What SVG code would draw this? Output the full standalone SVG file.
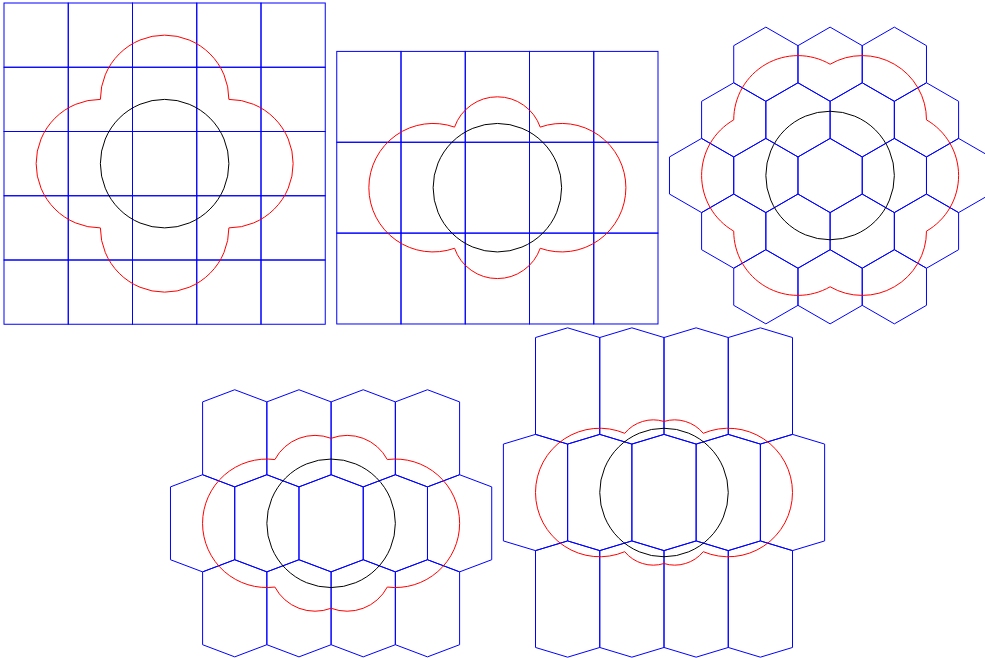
<svg xmlns="http://www.w3.org/2000/svg" width="985" height="658" viewBox="0 0 985 658">
<style>
.cell{fill:none;stroke:#0000ff;stroke-width:1}
.lobe{fill:none;stroke:#ff0000;stroke-width:1}
.disk{fill:none;stroke:#000000;stroke-width:1}
</style>
<defs>
<rect id="sq" class="cell" x="0" y="0" width="64.25" height="64.25"/>
<rect id="rc" class="cell" x="0" y="0" width="64.25" height="90.86"/>
<polygon id="h3" class="cell" points="0,-37.09 32.125,-18.55 32.125,18.55 0,37.09 -32.125,18.55 -32.125,-18.55"/>
<polygon id="h4" class="cell" points="0,-48.57 32.125,-36.42 32.125,36.42 0,48.57 -32.125,36.42 -32.125,-36.42"/>
<polygon id="h5" class="cell" points="0,-58.12 32.125,-48.43 32.125,48.43 0,58.12 -32.125,48.43 -32.125,-48.43"/>
</defs>

<g id="panel-square">
<g id="grid-square">
<use href="#sq" x="4" y="3"/><use href="#sq" x="68.25" y="3"/><use href="#sq" x="132.5" y="3"/><use href="#sq" x="196.75" y="3"/><use href="#sq" x="261" y="3"/>
<use href="#sq" x="4" y="67.25"/><use href="#sq" x="68.25" y="67.25"/><use href="#sq" x="132.5" y="67.25"/><use href="#sq" x="196.75" y="67.25"/><use href="#sq" x="261" y="67.25"/>
<use href="#sq" x="4" y="131.5"/><use href="#sq" x="68.25" y="131.5"/><use href="#sq" x="132.5" y="131.5"/><use href="#sq" x="196.75" y="131.5"/><use href="#sq" x="261" y="131.5"/>
<use href="#sq" x="4" y="195.75"/><use href="#sq" x="68.25" y="195.75"/><use href="#sq" x="132.5" y="195.75"/><use href="#sq" x="196.75" y="195.75"/><use href="#sq" x="261" y="195.75"/>
<use href="#sq" x="4" y="260"/><use href="#sq" x="68.25" y="260"/><use href="#sq" x="132.5" y="260"/><use href="#sq" x="196.75" y="260"/><use href="#sq" x="261" y="260"/>
</g>
<path class="lobe" d="M100.38,99.38 A64.25,64.25 0 0 1 228.88,99.38 A64.25,64.25 0 0 1 228.88,227.88 A64.25,64.25 0 0 1 100.38,227.88 A64.25,64.25 0 0 1 100.38,99.38 Z"/>
<circle class="disk" cx="164.63" cy="163.63" r="64.25"/>
</g>

<g id="panel-rect">
<g id="grid-rect">
<use href="#rc" x="336.75" y="51.4"/><use href="#rc" x="401" y="51.4"/><use href="#rc" x="465.25" y="51.4"/><use href="#rc" x="529.5" y="51.4"/><use href="#rc" x="593.75" y="51.4"/>
<use href="#rc" x="336.75" y="142.26"/><use href="#rc" x="401" y="142.26"/><use href="#rc" x="465.25" y="142.26"/><use href="#rc" x="529.5" y="142.26"/><use href="#rc" x="593.75" y="142.26"/>
<use href="#rc" x="336.75" y="233.12"/><use href="#rc" x="401" y="233.12"/><use href="#rc" x="465.25" y="233.12"/><use href="#rc" x="529.5" y="233.12"/><use href="#rc" x="593.75" y="233.12"/>
</g>
<path class="lobe" d="M454.54,127.12 A45.43,45.43 0 0 1 540.21,127.12 A64.25,64.25 0 1 1 540.21,248.26 A45.43,45.43 0 0 1 454.54,248.26 A64.25,64.25 0 1 1 454.54,127.12 Z"/>
<circle class="disk" cx="497.38" cy="187.69" r="64.25"/>
</g>

<g id="panel-hex">
<g id="grid-hex">
<use href="#h3" x="765.85" y="64.22"/><use href="#h3" x="830.1" y="64.22"/><use href="#h3" x="894.35" y="64.22"/>
<use href="#h3" x="733.725" y="119.86"/><use href="#h3" x="797.975" y="119.86"/><use href="#h3" x="862.225" y="119.86"/><use href="#h3" x="926.475" y="119.86"/>
<use href="#h3" x="701.6" y="175.5"/><use href="#h3" x="765.85" y="175.5"/><use href="#h3" x="830.1" y="175.5"/><use href="#h3" x="894.35" y="175.5"/><use href="#h3" x="958.6" y="175.5"/>
<use href="#h3" x="733.725" y="231.14"/><use href="#h3" x="797.975" y="231.14"/><use href="#h3" x="862.225" y="231.14"/><use href="#h3" x="926.475" y="231.14"/>
<use href="#h3" x="765.85" y="286.78"/><use href="#h3" x="830.1" y="286.78"/><use href="#h3" x="894.35" y="286.78"/>
</g>
<path class="lobe" d="M926.48,119.86 A64.25,64.25 0 0 1 926.48,231.14 A64.25,64.25 0 0 1 830.1,286.78 A64.25,64.25 0 0 1 733.73,231.14 A64.25,64.25 0 0 1 733.73,119.86 A64.25,64.25 0 0 1 830.1,64.22 A64.25,64.25 0 0 1 926.48,119.86 Z"/>
<circle class="disk" cx="830.1" cy="175.5" r="64.25"/>
</g>

<g id="panel-hex-tall">
<g id="grid-hex-tall">
<use href="#h4" x="234.725" y="438.31"/><use href="#h4" x="298.975" y="438.31"/><use href="#h4" x="363.225" y="438.31"/><use href="#h4" x="427.475" y="438.31"/>
<use href="#h4" x="202.6" y="523.3"/><use href="#h4" x="266.85" y="523.3"/><use href="#h4" x="331.1" y="523.3"/><use href="#h4" x="395.35" y="523.3"/><use href="#h4" x="459.6" y="523.3"/>
<use href="#h4" x="234.725" y="608.29"/><use href="#h4" x="298.975" y="608.29"/><use href="#h4" x="363.225" y="608.29"/><use href="#h4" x="427.475" y="608.29"/>
</g>
<path class="lobe" d="M331.1,438.32 A45.43,45.43 0 0 1 387.31,459.56 A64.25,64.25 0 1 1 387.31,587.04 A45.43,45.43 0 0 1 331.1,608.28 A45.43,45.43 0 0 1 274.89,587.04 A64.25,64.25 0 1 1 274.89,459.56 A45.43,45.43 0 0 1 331.1,438.32 Z"/>
<circle class="disk" cx="331.1" cy="523.3" r="64.25"/>
</g>

<g id="panel-hex-taller">
<g id="grid-hex-taller">
<use href="#h5" x="567.625" y="385.95"/><use href="#h5" x="631.875" y="385.95"/><use href="#h5" x="696.125" y="385.95"/><use href="#h5" x="760.375" y="385.95"/>
<use href="#h5" x="535.5" y="492.5"/><use href="#h5" x="599.75" y="492.5"/><use href="#h5" x="664" y="492.5"/><use href="#h5" x="728.25" y="492.5"/><use href="#h5" x="792.5" y="492.5"/>
<use href="#h5" x="567.625" y="599.05"/><use href="#h5" x="631.875" y="599.05"/><use href="#h5" x="696.125" y="599.05"/><use href="#h5" x="760.375" y="599.05"/>
</g>
<path class="lobe" d="M664,421.46 A37.09,37.09 0 0 1 703.27,433.3 A64.25,64.25 0 1 1 703.27,551.7 A37.09,37.09 0 0 1 664,563.54 A37.09,37.09 0 0 1 624.73,551.7 A64.25,64.25 0 1 1 624.73,433.3 A37.09,37.09 0 0 1 664,421.46 Z"/>
<circle class="disk" cx="664" cy="492.5" r="64.25"/>
</g>
</svg>
